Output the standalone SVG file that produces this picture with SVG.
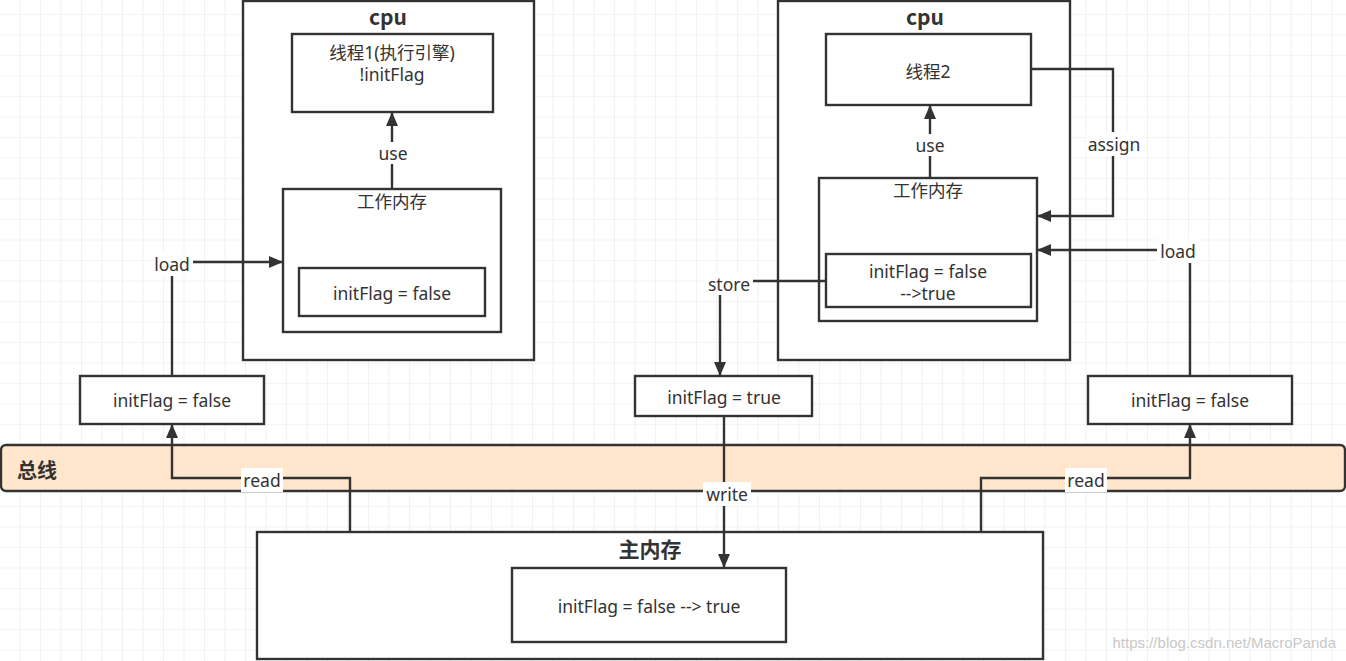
<svg xmlns="http://www.w3.org/2000/svg" width="1346" height="661" viewBox="0 0 1346 661">
<defs>
<pattern id="grid" x="19.5" y="14" width="20.5" height="20.5" patternUnits="userSpaceOnUse">
<path d="M0 0 V20.5 M0 0 H20.5" fill="none" stroke="#e8e8ea" stroke-width="1.2"/>
</pattern>
<marker id="arr" viewBox="0 0 14 12" refX="13" refY="6" markerWidth="14" markerHeight="12" markerUnits="userSpaceOnUse" orient="auto">
<path d="M0 0 L14 6 L0 12 Z" fill="#333"/>
</marker>
<style>
.box{fill:#fff;stroke:#333;stroke-width:2.4}
.bus{fill:#ffe6cc;stroke:#333;stroke-width:2.4}
.t{font-family:"Noto Sans","Noto Sans CJK SC",sans-serif;font-size:17.5px;fill:#333;text-anchor:middle;dominant-baseline:central}
.b{font-family:"Noto Sans CJK SC","Noto Sans",sans-serif;font-size:21px;font-weight:bold;fill:#333;text-anchor:middle;dominant-baseline:central}
.c{fill:none;stroke:#333;stroke-width:2.4}
.lbg{fill:#fff}
.wm{font-family:"Liberation Sans",sans-serif;font-size:15px;fill:#c8c8c8;text-anchor:end}
</style>
</defs>
<rect width="1346" height="661" fill="#fff"/>
<rect width="1346" height="661" fill="url(#grid)"/>

<g id="bus">
<rect class="bus" x="1" y="445" width="1344" height="46" rx="5"/>
<text class="b" x="37" y="469" style="font-size:20px">总线</text>
</g>

<g id="cpu1">
<rect class="box" x="243" y="1" width="291" height="359"/>
<text class="b" x="388" y="16">cpu</text>
</g>
<g id="thread1">
<rect class="box" x="292" y="34" width="201" height="78"/>
<text class="t" x="392" y="52">线程1(执行引擎)</text>
<text class="t" x="392" y="74">!initFlag</text>
</g>
<g id="wm1">
<rect class="box" x="283" y="189" width="218" height="143"/>
<text class="t" x="392" y="201">工作内存</text>
</g>
<g id="wm1var">
<rect class="box" x="299" y="268" width="186" height="48"/>
<text class="t" x="392" y="293">initFlag = false</text>
</g>

<g id="cpu2">
<rect class="box" x="778" y="1" width="292" height="359"/>
<text class="b" x="925" y="16">cpu</text>
</g>
<g id="thread2">
<rect class="box" x="826" y="34" width="205" height="71"/>
<text class="t" x="928" y="71">线程2</text>
</g>
<g id="wm2">
<rect class="box" x="819" y="178" width="218" height="143"/>
<text class="t" x="928" y="190">工作内存</text>
</g>
<g id="wm2var">
<rect class="box" x="826" y="254" width="205" height="53"/>
<text class="t" x="928" y="271">initFlag = false</text>
<text class="t" x="928" y="293">--&gt;true</text>
</g>

<g id="buf1">
<rect class="box" x="80" y="376" width="184" height="48"/>
<text class="t" x="172" y="400">initFlag = false</text>
</g>
<g id="buf2">
<rect class="box" x="635" y="376" width="177" height="40"/>
<text class="t" x="724" y="397">initFlag = true</text>
</g>
<g id="buf3">
<rect class="box" x="1088" y="376" width="204" height="48"/>
<text class="t" x="1190" y="400">initFlag = false</text>
</g>

<g id="mainmem">
<rect class="box" x="257" y="532" width="786" height="127"/>
<text class="b" x="650" y="548">主内存</text>
</g>
<g id="mainvar">
<rect class="box" x="512" y="568" width="274" height="74"/>
<text class="t" x="649" y="606">initFlag = false --&gt; true</text>
</g>

<g id="connectors">
<!-- use 1 -->
<path class="c" d="M392 189 V113" marker-end="url(#arr)"/>
<rect class="lbg" x="376" y="142" width="34" height="22"/>
<text class="t" x="393" y="153">use</text>
<!-- load 1 -->
<path class="c" d="M172 376 V262 H282" marker-end="url(#arr)"/>
<rect class="lbg" x="151" y="253" width="42" height="23"/>
<text class="t" x="172" y="264">load</text>
<!-- read 1 -->
<path class="c" d="M350 532 V478 H172 V425" marker-end="url(#arr)"/>
<rect class="lbg" x="241" y="468" width="42" height="24"/>
<text class="t" x="262" y="480">read</text>
<!-- use 2 -->
<path class="c" d="M930 178 V106" marker-end="url(#arr)"/>
<rect class="lbg" x="913" y="134" width="34" height="22"/>
<text class="t" x="930" y="145">use</text>
<!-- assign -->
<path class="c" d="M1032 69 H1113 V216 H1038" marker-end="url(#arr)"/>
<rect class="lbg" x="1086" y="132" width="56" height="24"/>
<text class="t" x="1114" y="144">assign</text>
<!-- load 2 -->
<path class="c" d="M1190 376 V250 H1038" marker-end="url(#arr)"/>
<rect class="lbg" x="1157" y="239" width="42" height="24"/>
<text class="t" x="1178" y="251">load</text>
<!-- store -->
<path class="c" d="M826 281 H720 V375" marker-end="url(#arr)"/>
<rect class="lbg" x="705" y="272" width="48" height="23"/>
<text class="t" x="729" y="284">store</text>
<!-- write -->
<path class="c" d="M724 416 V567" marker-end="url(#arr)"/>
<rect class="lbg" x="703" y="482" width="48" height="24"/>
<text class="t" x="727" y="494">write</text>
<!-- read 2 -->
<path class="c" d="M981 532 V478 H1190 V425" marker-end="url(#arr)"/>
<rect class="lbg" x="1065" y="468" width="42" height="24"/>
<text class="t" x="1086" y="480">read</text>
</g>

<text class="wm" x="1336" y="648">https://blog.csdn.net/MacroPanda</text>
</svg>
